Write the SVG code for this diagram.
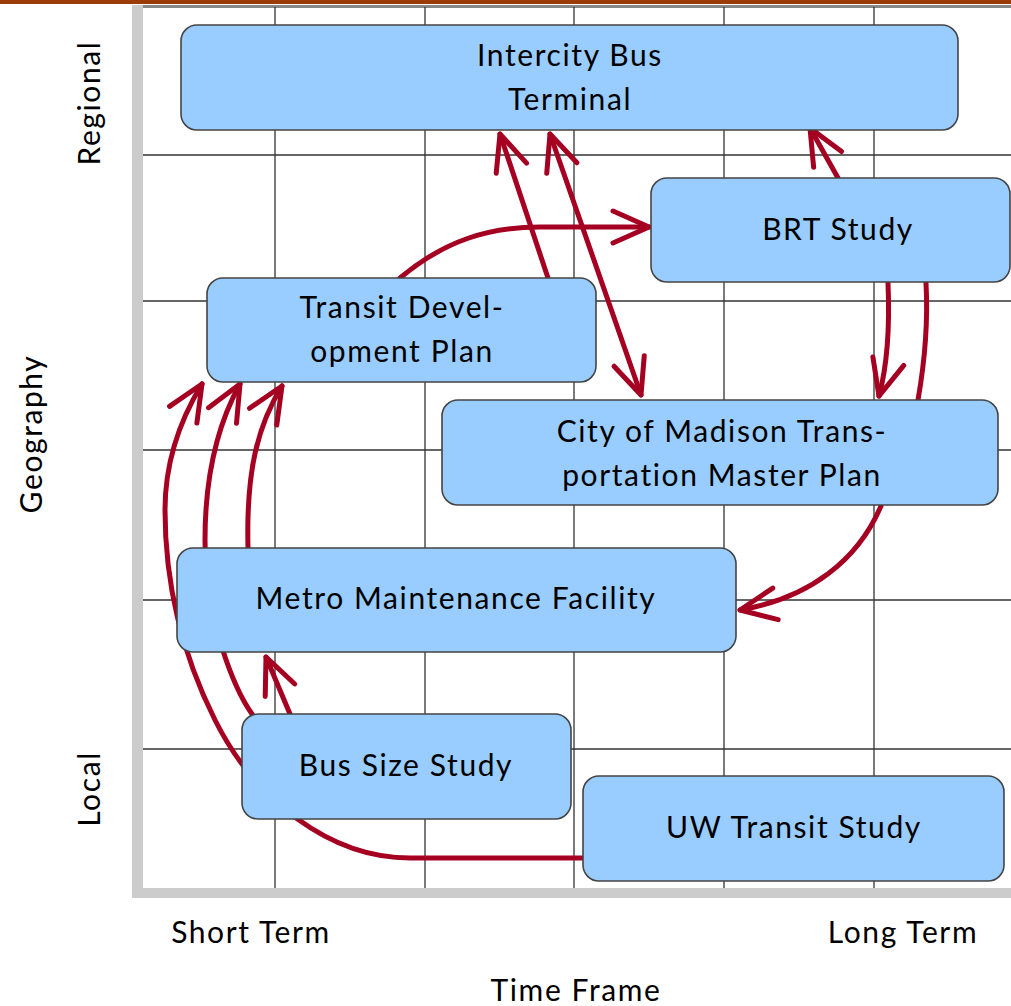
<svg xmlns="http://www.w3.org/2000/svg" width="1011" height="1006" viewBox="0 0 1011 1006">
  <style>
    .grid line { stroke: #333333; stroke-width: 1.3; }
    .node rect { fill: #99ccff; stroke: #444444; stroke-width: 1.6; }
    .lbl { font-family: Lato, "Open Sans", sans-serif; font-size: 30px; letter-spacing: 1.6px; fill: #000000; text-anchor: middle; }
    .conn path { fill: none; stroke: #a50021; stroke-width: 5; stroke-linecap: round; }
  </style>
  <defs>
    <marker id="ah" markerUnits="userSpaceOnUse" viewBox="-40 -20 44 40" refX="0" refY="0" markerWidth="44" markerHeight="40" orient="auto" overflow="visible">
      <path d="M-36,-16 L0,0 L-36,16" fill="none" stroke="#a50021" stroke-width="5" stroke-linecap="round" stroke-linejoin="round"/>
    </marker>
    <marker id="ahs" markerUnits="userSpaceOnUse" viewBox="-40 -20 44 40" refX="0" refY="0" markerWidth="44" markerHeight="40" orient="auto-start-reverse" overflow="visible">
      <path d="M-36,-16 L0,0 L-36,16" fill="none" stroke="#a50021" stroke-width="5" stroke-linecap="round" stroke-linejoin="round"/>
    </marker>
  </defs>
  <rect x="0" y="0" width="1011" height="1006" fill="#ffffff"/>
  <!-- top band -->
  <rect x="0" y="0" width="1011" height="4" fill="#9c3a08"/>
  <g class="grid" id="grid">
    <line x1="132" y1="6.5" x2="1011" y2="6.5" style="stroke:#888888;stroke-width:3"/>
    <line x1="275" y1="7" x2="275" y2="888"/>
    <line x1="425" y1="7" x2="425" y2="888"/>
    <line x1="574" y1="7" x2="574" y2="888"/>
    <line x1="724" y1="7" x2="724" y2="888"/>
    <line x1="874" y1="7" x2="874" y2="888"/>
    <line x1="143" y1="155" x2="1011" y2="155"/>
    <line x1="143" y1="301" x2="1011" y2="301"/>
    <line x1="143" y1="450" x2="1011" y2="450"/>
    <line x1="143" y1="600" x2="1011" y2="600"/>
    <line x1="143" y1="749" x2="1011" y2="749"/>
    <rect x="132" y="5" width="11" height="893" fill="#cccccc"/>
    <rect x="132" y="888" width="879" height="10" fill="#cccccc"/>
  </g>
  <g id="axis-labels" class="lbl">
    <text x="251" y="943">Short Term</text>
    <text x="903" y="943">Long Term</text>
    <text x="576" y="1001">Time Frame</text>
    <text transform="translate(100,103) rotate(-90)">Regional</text>
    <text transform="translate(100,789) rotate(-90)">Local</text>
    <text transform="translate(42,434) rotate(-90)">Geography</text>
  </g>
  <g class="conn" id="connectors">
    <path d="M548,278 L500,134" marker-end="url(#ah)"/>
    <path d="M550,134 L641,395" marker-start="url(#ahs)" marker-end="url(#ahs)"/>
    <path d="M838,178 L810,128" marker-end="url(#ah)"/>
    <path d="M400,278 C445,240 490,227 540,227 L649,227" marker-end="url(#ah)"/>
    <path d="M888,283 C890,330 886,370 879,396" marker-end="url(#ah)"/>
    <path d="M918,400 C925,360 928,320 926,283"/>
    <path d="M881,506 C858,560 810,598 740,610" marker-end="url(#ah)"/>
    <path d="M583,858 L410,858 C330,858 255,800 215,720 C185,660 165,590 165,510 C165,460 180,420 202,384" marker-end="url(#ah)"/>
    <path d="M252,714 C235,690 205,620 205,540 C205,470 220,420 240,384" marker-end="url(#ah)"/>
    <path d="M248,548 C246,470 258,425 282,386" marker-end="url(#ah)"/>
    <path d="M290,714 L266,657" marker-end="url(#ah)"/>
  </g>
  <g class="node" id="intercity">
    <rect x="181" y="25" width="777" height="105" rx="16"/>
    <text class="lbl" x="570" y="66">Intercity Bus</text>
    <text class="lbl" x="570" y="110">Terminal</text>
  </g>
  <g class="node" id="brt">
    <rect x="651" y="178" width="359" height="104" rx="16"/>
    <text class="lbl" x="838" y="240">BRT Study</text>
  </g>
  <g class="node" id="tdp">
    <rect x="207" y="278" width="389" height="104" rx="16"/>
    <text class="lbl" x="402" y="318">Transit Devel-</text>
    <text class="lbl" x="402" y="362">opment Plan</text>
  </g>
  <g class="node" id="madison">
    <rect x="442" y="400" width="556" height="105" rx="16"/>
    <text class="lbl" x="722" y="442">City of Madison Trans-</text>
    <text class="lbl" x="722" y="486">portation Master Plan</text>
  </g>
  <g class="node" id="metro">
    <rect x="177" y="548" width="559" height="104" rx="16"/>
    <text class="lbl" x="456" y="609">Metro Maintenance Facility</text>
  </g>
  <g class="node" id="bussize">
    <rect x="242" y="714" width="329" height="105" rx="16"/>
    <text class="lbl" x="406" y="776">Bus Size Study</text>
  </g>
  <g class="node" id="uw">
    <rect x="583" y="776" width="421" height="105" rx="16"/>
    <text class="lbl" x="794" y="838">UW Transit Study</text>
  </g>
</svg>
